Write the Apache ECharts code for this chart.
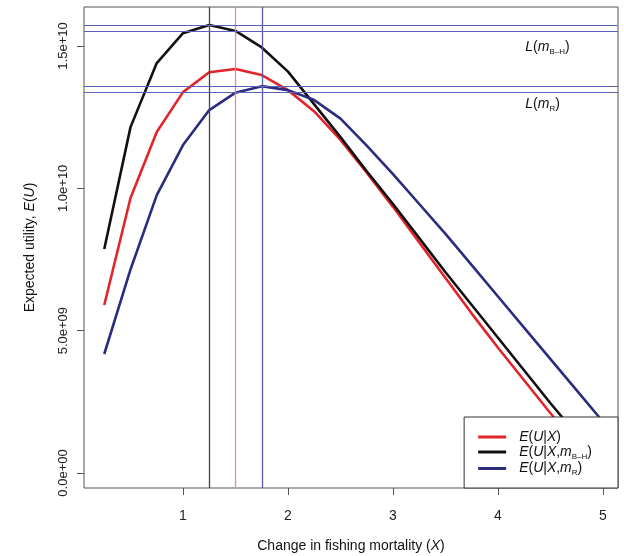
<!DOCTYPE html>
<html><head><meta charset="utf-8">
<script src="https://cdn.jsdelivr.net/npm/echarts@6/dist/echarts.min.js"></script>
<style>html,body{margin:0;padding:0;background:#fff}#c{width:624px;height:556px}</style>
</head><body><div id="c"></div>
<script>
// ---- data ----
const xValues = [0.25,0.5,0.75,1.0,1.25,1.5,1.75,2.0,2.25,2.5,2.75,3.0,3.25,3.5,3.75,4.0,4.25,4.5,4.75,5.0];
const euX   = [5.90,9.66,11.98,13.38,14.08,14.19,13.98,13.45,12.70,11.70,10.55,9.35,8.10,6.85,5.60,4.40,3.25,2.10,1.00,0.00]; // x1e9
const euBH  = [7.87,12.15,14.40,15.45,15.74,15.53,14.95,14.10,12.95,11.80,10.60,9.45,8.25,7.05,5.90,4.75,3.60,2.45,1.35,0.30];
const euR   = [4.18,7.15,9.76,11.52,12.75,13.36,13.59,13.45,13.10,12.45,11.50,10.50,9.45,8.40,7.30,6.20,5.10,4.00,2.90,1.80];
const optX  = {red:1.5, black:1.25, blue:1.75};
const levelBH = [15.74, 15.53]; // x1e9
const levelR  = [13.59, 13.38];
const xTicks = [1,2,3,4,5];
const yTicks = [0, 5e9, 1e10, 1.5e10];
const SCALE = 1e9;

function pairs(ys){ return xValues.map((x,i)=>[x, ys[i]*SCALE]); }
function expFmt(v){
  if (v === 0) return '0.0e+00';
  const e = Math.floor(Math.log10(Math.abs(v)) + 1e-9);
  const m = v/Math.pow(10,e);
  return m.toFixed(1)+'e'+(e>=0?'+':'-')+String(Math.abs(e)).padStart(2,'0');
}
const FONT = '"Liberation Sans", Arial, sans-serif';
const richBase = {
  n:{fontFamily:FONT,fontSize:14,color:'#111',lineHeight:17},
  i:{fontFamily:FONT,fontSize:14,fontStyle:'italic',color:'#111',lineHeight:17},
  s:{fontFamily:FONT,fontSize:8,color:'#111',verticalAlign:'bottom',lineHeight:17},
  sp:{width:8}
};
const legendNames = {
  r:'{sp| }{i|E}{n|(}{i|U}{n||}{i|X}{n|)}',
  k:'{sp| }{i|E}{n|(}{i|U}{n||}{i|X}{n|,}{i|m}{s|B–H}{n|)}',
  b:'{sp| }{i|E}{n|(}{i|U}{n||}{i|X}{n|,}{i|m}{s|R}{n|)}'
};
const hColor = '#5b60b8';
function hLines(vals){ return vals.map(v=>({yAxis:v*SCALE, lineStyle:{color:hColor,width:1.2,type:'solid'}})); }

const chart = echarts.init(document.getElementById('c'), null, {renderer:'canvas'});
chart.setOption({
  animation:false,
  backgroundColor:'#fff',
  grid:{left:84,right:6,top:7,bottom:68,outerBoundsMode:'none',containLabel:false,show:true,borderColor:'#555',borderWidth:1,backgroundColor:'transparent'},
  xAxis:{type:'value',min:0.057,max:5.143,
    axisLine:{show:false,onZero:false},
    axisTick:{show:true,inside:false,length:7,lineStyle:{color:'#555'},customValues:xTicks},
    axisLabel:{customValues:xTicks,fontFamily:FONT,fontSize:14,color:'#222',margin:21},
    splitLine:{show:false},
    name:'{n|Change in fishing mortality (}{i|X}{n|)}',nameLocation:'middle',nameGap:50,
    nameTextStyle:{rich:richBase}
  },
  yAxis:{type:'value',min:-0.527e9,max:16.37e9,
    axisLine:{show:false,onZero:false},
    axisTick:{show:true,inside:false,length:7,lineStyle:{color:'#555'},customValues:yTicks},
    axisLabel:{customValues:yTicks,formatter:expFmt,rotate:90,fontFamily:FONT,fontSize:13,color:'#222',margin:14},
    splitLine:{show:false},
    name:'{n|Expected utility, }{i|E}{n|(}{i|U}{n|)}',nameLocation:'middle',nameRotate:90,nameGap:45,
    nameTextStyle:{rich:richBase}
  },
  legend:{
    orient:'vertical',right:6,bottom:68,
    backgroundColor:'#fff',borderColor:'#333',borderWidth:1,borderRadius:0,
    padding:[13,26,11,14],itemGap:1,itemWidth:28,itemHeight:3,icon:'rect',
    data:['r','k','b'],
    formatter:n=>legendNames[n],
    textStyle:{rich:richBase}
  },
  series:[
    {name:'r',type:'line',data:pairs(euX),symbol:'none',lineStyle:{color:'#e3242b',width:2.6},itemStyle:{color:'#e3242b'},z:3,
      markLine:{silent:true,symbol:'none',label:{show:false},animation:false,
        data:[{xAxis:optX.red,lineStyle:{color:'#f08a86',width:1.3,type:'solid'}}]}},
    {name:'k',type:'line',data:pairs(euBH),symbol:'none',lineStyle:{color:'#111',width:2.6},itemStyle:{color:'#111'},z:3,
      markLine:{silent:true,symbol:'none',label:{show:false},animation:false,
        data:[{xAxis:optX.black,lineStyle:{color:'#444',width:1.3,type:'solid'}}].concat(hLines(levelBH))},
      markPoint:{silent:true,symbol:'circle',symbolSize:0,itemStyle:{color:'rgba(0,0,0,0)'},
        label:{show:true,position:'right',distance:0,color:'#111',formatter:'{i|L}{n|(}{i|m}{s|B–H}{n|)}',rich:richBase},
        data:[{coord:[4.26,14.95*SCALE]}]}},
    {name:'b',type:'line',data:pairs(euR),symbol:'none',lineStyle:{color:'#2b2b80',width:2.6},itemStyle:{color:'#2b2b80'},z:3,
      markLine:{silent:true,symbol:'none',label:{show:false},animation:false,
        data:[{xAxis:optX.blue,lineStyle:{color:'#5a5aa6',width:1.3,type:'solid'}}].concat(hLines(levelR))},
      markPoint:{silent:true,symbol:'circle',symbolSize:0,itemStyle:{color:'rgba(0,0,0,0)'},
        label:{show:true,position:'right',distance:0,color:'#111',formatter:'{i|L}{n|(}{i|m}{s|R}{n|)}',rich:richBase},
        data:[{coord:[4.26,12.95*SCALE]}]}}
  ]
});
</script></body></html>
